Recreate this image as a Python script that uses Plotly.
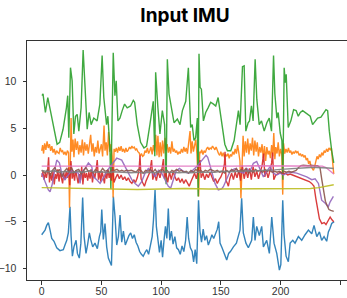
import plotly.graph_objects as go

# ---- data (x = sample index, y = value) ----
blue_x = [0, 1.4, 2.8, 4.2, 5.6, 7.0, 8.4, 10.3, 12.6, 15.3, 18.1, 19.5, 21.0, 22.3, 23.7, 24.6, 25.7, 27.0, 28.8, 29.9,
          31.5, 32.8, 34.3, 35.5, 37.1, 38.4, 39.9, 41.0, 42.7, 44.6, 46.6, 48.3, 49.4, 50.3, 51.6, 53.0, 54.4, 55.8, 57.2, 58.4,
          59.2, 60.0, 61.4, 62.8, 64.2, 65.6, 67.0, 68.4, 70.0, 71.5, 73.0, 74.5, 76.0, 77.5, 79.0, 80.5, 82.0, 83.5, 85.0, 86.5,
          88.0, 89.5, 91.0, 92.5, 93.6, 94.9, 96.0, 97.3, 98.6, 100.0, 101.2, 102.4, 103.6, 104.8, 106.0, 107.2, 108.6, 110.0, 111.5, 113.0,
          114.5, 116.0, 117.5, 119.0, 120.5, 121.8, 123.0, 124.5, 126.0, 127.2, 128.5, 129.8, 130.6, 131.3, 132.5, 133.8, 135.2, 136.6, 138.0, 139.5,
          141.0, 142.5, 144.0, 145.5, 147.0, 148.2, 149.3, 151.0, 153.5, 154.9, 156.5, 158.0, 160.5, 163.0, 166.0, 167.4, 168.8, 171.0, 173.0, 175.8,
          177.2, 178.6, 180.0, 182.2, 184.2, 185.6, 188.4, 190.6, 192.6, 194.5, 196.8, 199.0, 200.2, 201.8, 202.9, 204.6, 206.5, 208.0, 210.2, 212.1,
          214.9, 217.7, 220.5, 223.3, 226.1, 228.0, 230.3, 232.5, 234.4, 236.4, 238.6, 240.0, 241.4, 242.8, 244.8]
blue_y = [-6.4, -6.2, -5.9, -5.4, -5.1, -5.9, -6.8, -7.1, -7.8, -8.1, -8.0, -7.5, -7.0, -6.2, -3.4, -6.5, -8.7, -7.7, -7.0, -8.4,
          -8.9, -7.3, -2.4, -6.6, -8.4, -7.5, -6.2, -6.9, -7.7, -7.3, -7.9, -6.6, -6.1, -3.7, -6.9, -5.2, -7.7, -8.9, -9.3, -9.7,
          -6.0, -2.3, -4.5, -7.5, -6.6, -4.3, -7.2, -6.0, -7.5, -6.9, -6.5, -6.2, -6.8, -6.4, -7.2, -7.6, -8.2, -8.5, -8.7, -8.3,
          -8.0, -8.5, -7.4, -6.6, -4.8, -1.6, -5.5, -7.3, -8.3, -7.0, -8.8, -7.0, -5.5, -6.8, -3.6, -7.0, -6.0, -7.4, -6.6, -7.8,
          -8.0, -8.5, -7.6, -8.2, -7.0, -4.5, -6.8, -7.8, -8.2, -9.3, -8.0, -9.5, -6.5, -2.7, -6.0, -7.2, -5.8, -7.0, -6.5, -7.5,
          -7.0, -6.4, -6.8, -6.2, -5.8, -5.0, -7.3, -7.8, -8.7, -9.1, -8.4, -8.2, -7.7, -7.3, -5.9, -2.5, -6.2, -7.3, -7.8, -7.0,
          -4.5, -7.0, -5.5, -6.5, -5.5, -7.7, -7.0, -8.4, -4.5, -7.3, -8.4, -10.2, -9.6, -2.7, -6.4, -8.7, -9.3, -7.3, -7.0, -7.3,
          -6.6, -7.0, -6.4, -5.9, -6.3, -5.4, -6.6, -6.1, -7.0, -6.6, -7.1, -6.1, -5.7, -5.2, -5.0]

orange_x = [0, 0.8, 1.6, 2.5, 3.5, 4.5, 5.5, 6.5, 7.5, 8.5, 9.5, 10.5, 11.5, 12.5, 13.5, 14.5, 15.5, 16.5, 17.5, 18.5,
            19.5, 20.5, 21.5, 22.5, 23.3, 24.0, 24.6, 25.3, 26.2, 27.0, 28.0, 29.0, 30.0, 31.0, 32.0, 33.0, 34.0, 35.0, 36.0, 37.0,
            38.0, 39.0, 40.0, 41.0, 42.0, 43.0, 44.0, 45.0, 46.0, 47.0, 48.0, 49.0, 50.0, 51.0, 52.2, 53.0, 54.0, 55.0, 56.0, 57.0,
            58.0, 59.0, 59.8, 60.6, 61.5, 62.5, 63.5, 64.5, 65.5, 66.5, 67.5, 68.5, 69.5, 70.5, 71.5, 72.5, 73.5, 74.5, 75.5, 76.5,
            77.5, 78.5, 79.5, 80.5, 81.5, 82.5, 83.5, 84.5, 85.5, 86.5, 87.5, 88.5, 89.5, 90.5, 91.5, 92.5, 93.5, 94.5, 95.5, 96.5,
            97.3, 98.3, 99.2, 100.2, 101.2, 102.2, 103.2, 104.0, 105.0, 106.0, 107.0, 108.0, 109.0, 110.0, 111.0, 112.0, 113.0, 114.0, 115.0, 116.0,
            117.0, 118.0, 119.0, 120.0, 121.0, 122.0, 123.0, 124.2, 125.0, 126.0, 127.0, 128.0, 129.0, 130.0, 131.4, 132.3, 133.2, 134.0, 135.0, 136.0,
            137.0, 138.0, 139.0, 140.0, 141.0, 142.0, 143.0, 144.0, 145.0, 146.0, 147.0, 148.0, 149.0, 150.0, 151.0, 152.0, 153.0, 154.0, 155.0, 156.0,
            157.0, 158.0, 159.0, 160.0, 161.0, 162.0, 163.0, 164.0, 165.0, 166.0, 166.8, 167.6, 168.6, 169.5, 170.5, 171.5, 172.5, 173.5, 174.5, 175.5,
            176.5, 177.5, 178.5, 179.5, 180.5, 181.5, 182.5, 183.5, 184.5, 185.5, 186.5, 187.5, 188.5, 189.5, 190.5, 191.5, 192.5, 193.5, 194.3, 195.2,
            196.0, 197.0, 198.0, 199.0, 200.0, 201.0, 201.8, 202.5, 203.5, 204.5, 205.5, 206.6, 207.5, 208.5, 209.5, 210.5, 211.5, 212.5, 213.5, 214.5,
            215.5, 216.5, 217.5, 218.5, 219.5, 220.5, 221.5, 222.5, 223.5, 224.5, 225.5, 226.5, 227.5, 228.5, 229.5, 230.5, 231.5, 232.5, 233.5, 234.5,
            235.5, 236.5, 237.5, 238.5, 239.5, 240.5, 241.5, 242.5, 243.5, 244.5]
orange_y = [2.6, 3.2, 2.3, 3.4, 2.7, 3.6, 2.9, 3.3, 2.6, 3.1, 2.4, 2.8, 2.2, 2.6, 2.4, 2.3, 2.9, 2.5, 2.6, 2.2,
            2.5, 2.1, 2.6, 2.4, -3.5, 1.0, 6.1, 2.5, 3.8, 1.9, 3.9, 2.7, 3.6, 2.2, 3.2, 2.4, 3.8, 2.1, 3.5, 2.6,
            3.3, 2.3, 3.1, 4.3, 2.5, 3.4, 2.0, 3.0, 2.4, 3.7, 2.3, 2.8, 3.3, 2.0, 5.3, 2.6, 3.5, 2.1, 4.6, 2.5,
            3.3, 2.0, -2.4, 2.8, 2.5, 2.9, 2.4, 3.0, 2.6, 3.1, 2.5, 2.8, 2.4, 2.9, 2.5, 2.7, 3.0, 2.8, 3.1, 2.9,
            3.0, 2.7, 2.8, 2.5, 2.4, 2.0, 2.3, 2.0, 2.1, 2.6, 2.4, 2.9, 2.3, 2.6, 3.0, 2.2, 3.2, 2.5, 4.3, 2.1,
            4.2, 1.9, 3.5, 2.0, 3.7, 2.3, 4.0, 2.6, 3.3, 2.4, 3.0, 2.3, 3.6, 2.5, 2.8, 2.4, 2.6, 2.2, 2.5, 2.3,
            2.8, 2.4, 3.0, 2.5, 2.9, 2.3, 3.4, 4.7, 2.3, 3.6, 2.5, 3.0, 3.8, 2.2, -2.3, 2.5, 2.4, 2.7, 2.2, 2.6,
            2.4, 2.8, 3.0, 2.7, 2.9, 2.8, 3.1, 2.9, 2.7, 3.0, 2.6, 2.3, 2.1, 2.5, 2.0, 2.4, 1.9, 2.2, 2.0, 2.3,
            1.8, 2.2, 2.0, 2.5, 2.2, 2.8, 2.3, 3.2, 2.4, 1.5, -2.5, 2.0, 4.2, 2.0, 3.6, 2.4, 3.9, 2.2, 3.4, 2.6,
            4.0, 2.1, 3.7, 2.5, 3.5, 2.0, 3.0, 2.4, 3.3, 1.8, 3.1, 1.5, 3.0, 2.2, 2.6, 1.8, 3.2, 2.0, 4.5, 1.7,
            3.0, 2.3, 3.5, 2.0, 2.8, 2.2, -2.1, 3.4, 2.3, 2.8, 2.4, 2.9, 2.4, 2.6, 2.2, 2.5, 2.3, 2.6, 2.4, 2.5,
            2.1, 2.3, 2.0, 2.2, 1.9, 2.1, 1.6, 1.8, 1.2, 1.5, 0.9, 0.7, 0.5, 0.9, 1.4, 2.0, 1.7, 2.2, 1.9, 2.4,
            2.1, 2.6, 2.4, 2.8, 2.5, 2.9, 2.7, 2.9, 1.5, 0.1]

green_x = [0.3, 1.1, 3.1, 5.1, 7.3, 10.1, 12.9, 15.1, 17.9, 20.7, 21.8, 22.7, 24.1, 25.5, 26.9, 28.3, 29.7, 31.1, 33.0, 34.7,
           36.7, 38.1, 39.7, 41.4, 43.6, 46.4, 48.7, 50.6, 52.0, 54.3, 55.4, 57.1, 57.9, 59.9, 61.3, 62.4, 63.8, 65.5, 67.4, 69.4,
           71.6, 74.4, 76.7, 77.8, 80.0, 82.8, 85.6, 87.8, 90.6, 93.4, 94.7, 95.4, 97.3, 99.0, 101.0, 102.9, 104.2, 105.2, 106.6, 108.5,
           110.8, 113.6, 115.8, 117.8, 120.6, 122.8, 124.7, 126.0, 127.5, 128.9, 130.3, 131.0, 131.7, 132.6, 133.7, 135.4, 137.3, 139.3, 141.5, 143.8,
           145.7, 147.7, 149.3, 151.3, 153.3, 155.5, 158.3, 161.1, 163.3, 164.7, 166.1, 168.1, 169.5, 170.9, 172.8, 174.0, 175.6, 177.0, 178.7, 180.1,
           182.1, 184.0, 186.3, 188.5, 190.5, 192.4, 194.1, 195.2, 196.9, 198.0, 199.7, 201.1, 201.9, 203.0, 203.9, 204.7, 206.4, 208.6, 210.9, 213.0,
           214.8, 216.5, 218.5, 220.4, 222.6, 224.8, 226.8, 228.8, 231.0, 233.8, 236.0, 238.0, 239.4, 240.8, 242.8, 244.5]
green_y = [8.5, 8.7, 6.7, 8.3, 6.9, 4.9, 3.3, 3.5, 4.9, 7.2, 8.5, 4.0, 11.5, 10.1, 4.4, 6.3, 6.5, 4.7, 7.2, 13.4,
           8.7, 4.9, 6.7, 5.4, 6.1, 5.8, 7.6, 12.8, 8.3, 5.4, 6.3, 2.9, -1.5, 13.1, 8.5, 10.1, 5.8, 6.1, 6.9, 7.6,
           7.2, 7.4, 8.0, 7.8, 5.4, 3.5, 2.9, 3.1, 5.4, 7.9, 2.0, 11.0, 7.2, 4.4, 6.9, 5.4, -1.0, 12.4, 8.7, 7.2,
           5.6, 6.0, 5.4, 6.9, 7.9, 11.5, 5.1, 5.4, 3.7, 4.0, 6.1, -2.3, 13.0, 9.4, 9.2, 5.8, 6.7, 7.2, 7.8, 7.6,
           7.4, 8.3, 6.9, 4.7, 3.3, 2.6, 2.6, 3.7, 5.8, 6.9, 5.4, 11.6, 11.7, 4.7, 5.6, 5.8, 7.4, 5.8, 12.4, 8.1,
           5.4, 5.8, 4.7, 5.6, 6.1, 4.7, 12.8, 8.7, 6.1, 6.7, 4.5, 3.7, -0.5, 11.5, 9.9, 10.8, 5.1, 5.8, 7.0, 6.9,
           6.3, 6.7, 6.9, 6.7, 6.5, 6.3, 5.4, 5.8, 6.1, 6.2, 6.6, 7.0, 6.9, 4.7, 2.6, 1.3]

red_x = [0, 1, 2, 3, 4, 5, 5.8, 6.5, 7.5, 8.5, 9.5, 10.5, 11.5, 12.5, 13.5, 14.5, 15.5, 16.5, 17.5, 18.5,
         19.5, 20.5, 21.5, 22.5, 23.5, 24.5, 25.5, 26.5, 27.5, 28.5, 29.5, 30.5, 31.5, 32.5, 33.5, 34.5, 35.5, 36.5, 37.5, 38.5,
         39.5, 40.5, 41.5, 42.5, 43.5, 44.5, 45.5, 46.5, 47.5, 48.5, 49.5, 50.5, 51.5, 52.5, 53.5, 54.5, 55.5, 56.5, 57.5, 58.5,
         59.5, 60.5, 62, 63.5, 65, 66.5, 68, 69.5, 71, 72.5, 74, 75.5, 77, 78.5, 80, 81.5, 82.3, 83.2, 84.5, 86,
         87.5, 89, 90.5, 92, 93, 94.5, 96, 97.5, 99, 100.5, 101.9, 102.8, 104, 105.5, 107, 108.5, 110, 111.5, 113, 114.5,
         116, 117.5, 119, 120.5, 122, 123.5, 125, 126.5, 128, 129.5, 131, 132.6, 133.5, 135, 136.5, 138, 139.5, 141, 142.5, 144,
         145.5, 147, 148.5, 150, 151.5, 153, 153.5, 154.3, 155.5, 156.3, 157.5, 159, 160.5, 162, 163.5, 165, 166.5, 168, 169.5, 171,
         172.5, 174, 175.5, 177, 178.5, 180, 181.5, 183, 184.5, 185.8, 186.8, 188, 189.5, 191, 192.5, 193.3, 194.3, 196, 198, 200,
         202, 204, 206, 208, 210, 212, 214, 216, 218, 220, 222, 224, 226, 228, 229.5, 231, 232.5, 234.5, 236.5, 238,
         239.5, 241.5, 243, 244.5]
red_y = [-0.2, 0.3, -0.5, 0.2, -0.3, 0.5, 1.9, -0.8, 0.2, -0.6, 0.4, -1.0, 0.1, -0.4, 0.6, -0.7, 0.3, -0.2, -0.9, 0.2,
         -0.5, 0.4, -0.3, 0.8, -1.1, 1.5, -0.4, 0.3, -0.6, 0.5, -0.2, -0.9, 0.1, -0.5, 0.9, -1.0, 0.4, -0.3, 0.2, -0.6,
         0.3, -0.4, 0.6, -0.8, 0.2, -0.3, 0.5, 1.6, -0.5, 0.3, -0.7, 0.4, -0.2, -0.9, 0.3, -0.4, 0.6, -0.3, 0.2, -0.6,
         1.0, -0.8, -0.3, 0.1, -0.4, 0.0, -0.5, -0.2, -0.6, -0.3, -0.7, -0.9, -0.5, -0.8, -0.3, 0.5, 2.1, -0.4, -0.8, -1.2,
         -0.6, -0.2, 0.3, 1.6, -0.5, 0.2, -0.6, 0.4, -0.3, 0.5, 1.7, -0.4, 0.2, -0.8, 0.3, -0.5, 0.4, -0.2, -0.6, -0.3,
         -0.8, -0.4, -0.9, -0.5, -0.9, -1.2, -0.7, -0.3, 0.2, -0.4, 0.6, 1.6, -0.3, 0.2, -0.5, 0.1, -0.3, 0.3, -0.2, -0.7,
         -0.4, -0.9, -0.5, -0.2, 0.3, 1.2, 2.5, -0.6, -0.9, -1.2, -0.4, 0.2, -0.5, 0.3, -0.3, 0.5, -0.6, 1.0, -0.4, 0.5,
         -0.3, 0.7, -0.5, 0.9, -0.2, 0.4, -0.4, 0.3, 1.0, 2.3, -0.2, 0.5, -0.3, 0.4, 1.3, 2.4, -0.5, 0.0, 0.2, 0.3,
         0.1, 0.2, 0.0, 0.1, 0.0, -0.1, -0.2, -0.3, -0.4, -0.5, -0.6, -0.7, -0.9, -1.2, -2.5, -3.8, -4.7, -5.2, -5.1, -5.3,
         -4.9, -4.5, -4.8, -5.0]

purple_x = [0, 2, 4, 5.6, 7, 8.8, 11.2, 12.6, 14.8, 16.8, 19.5, 22.3, 25.1, 27.9, 30.7, 32.1, 33.5, 36.3, 39.1, 41.9,
            43.3, 46.1, 48.9, 51.7, 54.5, 57.3, 60.0, 62.8, 67.0, 69.8, 72.6, 75.4, 78.2, 80.9, 83.7, 86.5, 89.3, 92.1, 94.9, 97.7,
            100.5, 103.3, 106.0, 108.0, 110.2, 112.5, 115.3, 118.6, 122.8, 125.6, 129.8, 134.0, 137.6, 139.0, 142.3, 145.1, 147.9, 150.6, 152.1, 154.9,
            157.7, 161.9, 164.7, 168.9, 171.6, 174.4, 177.2, 180.0, 182.8, 185.6, 188.4, 191.2, 194.0, 196.8, 199.6, 202.4, 205.1, 209.3, 213.5, 217.7,
            221.9, 226.1, 228.9, 231.7, 233.1, 234.4, 237.2, 240.0, 241.4, 244.2]
purple_y = [0.2, -0.4, -1.2, -1.6, -1.8, -1.0, 0.7, 1.6, 1.3, 0.2, -0.5, 0.0, 0.5, 0.3, 0.2, -0.9, 0.3, 0.7, 1.3, 0.9,
            -0.2, -0.5, -0.9, -0.3, 0.4, 0.9, 1.4, 1.8, 1.6, 0.9, 0.2, -0.5, -0.9, -1.2, -0.7, 0.2, 0.7, 0.4, -0.2, 0.5,
            0.2, -0.5, -1.2, -1.4, -0.5, 0.4, 0.7, 0.4, 0.2, 0.4, 0.9, 1.6, 2.1, 1.9, 0.3, -0.9, -1.6, -1.5, -1.25, -0.5,
            0.4, 0.7, 0.4, 0.2, 0.7, 0.4, 1.25, 1.45, 0.6, -0.2, 0.4, 0.9, 0.2, 0.0, 0.2, 0.0, 0.2, 0.3, 0.2, 0.0,
            -0.2, -0.5, -0.4, -0.9, -1.9, -2.7, -3.0, -3.4, -2.9, -2.3]

brown_x = [0, 3, 5, 7, 9, 11, 13, 15, 17, 19, 21, 23, 25, 27, 29, 31, 33, 35, 37, 39,
           41, 43, 45, 47, 49, 51, 53, 55, 57, 59, 61, 63, 65, 67, 69, 71, 73, 75, 77, 79,
           81, 83, 85, 87, 89, 91, 93, 95, 97, 99, 101, 103, 105, 107, 109, 111, 113, 115, 117, 119,
           121, 123, 125, 127, 129, 131, 133, 135, 137, 139, 141, 143, 145, 147, 149, 151, 153, 155, 157, 159,
           161, 163, 165, 167, 169, 171, 173, 175, 177, 179, 181, 183, 185, 187, 189, 191, 193, 195, 197, 199,
           201, 203, 205, 207, 209, 211, 213, 215, 217, 219, 221, 223, 225, 227, 229, 231, 233, 234.5, 236, 237.5,
           239, 240.5, 242, 244.5]
brown_y = [0.5, 0.2, 0.6, -0.1, 0.5, 0.8, 0.3, 0.6, -0.2, 0.4, 0.7, 0.3, 0.8, 0.2, 0.5, 0.6, 0.1, 0.5, 0.8, 0.4,
           0.5, 0.2, 0.6, 0.4, 0.3, 0.7, 0.4, 0.5, 0.2, 0.6, 0.5, 0.6, 0.4, 0.5, 0.4, 0.5, 0.45, 0.5, 0.4, 0.3,
           0.6, 0.5, 0.2, 0.5, 0.4, 0.6, 0.3, 0.6, 0.2, 0.5, 0.6, 0.3, 0.5, 0.2, 0.5, 0.4, 0.6, 0.4, 0.5, 0.3,
           0.4, 0.2, 0.5, 0.3, 0.6, 0.4, 0.5, 0.3, 0.5, 0.4, 0.6, 0.5, 0.4, 0.5, 0.3, 0.4, 0.2, 0.5, 0.3, 0.6,
           0.4, 0.7, 0.3, 0.6, 0.4, 0.7, 0.2, 0.5, 0.3, 0.6, 0.4, 0.5, 0.3, 0.6, 0.4, 0.5, 0.3, 0.4, 0.3, 0.4,
           0.2, 0.4, 0.3, 0.4, 0.3, 0.4, 0.5, 0.8, 1.0, 1.05, 1.0, 1.0, 1.05, 1.0, 1.0, 1.0, 0.8, -0.5, -1.8, -2.8,
           -3.3, -3.7, -3.8, -3.9]

pink_x = [0, 20, 40, 60, 80, 100, 120, 140, 160, 180, 200, 220, 230, 235, 238, 241, 243, 244.5]
pink_y = [0.95, 0.95, 0.9, 0.95, 0.9, 0.95, 0.9, 0.95, 0.95, 1.0, 1.0, 1.0, 1.0, 0.95, 0.8, 0.5, 0.25, 0.1]

gray_x = [0, 5, 10, 15, 20, 25, 30, 35, 40, 45, 50, 55, 60, 65, 70, 75, 80, 85, 90, 95,
          100, 105, 110, 115, 120, 125, 130, 135, 140, 145, 150, 155, 160, 165, 170, 175, 180, 185, 190, 195,
          200, 205, 210, 215, 220, 225, 230, 235, 240, 244.5]
gray_y = [0.5, 0.35, 0.45, 0.3, 0.4, 0.25, 0.4, 0.3, 0.45, 0.3, 0.35, 0.25, 0.35, 0.3, 0.3, 0.25, 0.3, 0.2, 0.3, 0.25,
          0.35, 0.3, 0.3, 0.25, 0.3, 0.25, 0.3, 0.3, 0.35, 0.3, 0.4, 0.35, 0.35, 0.4, 0.4, 0.45, 0.45, 0.5, 0.5, 0.55,
          0.6, 0.65, 0.7, 0.75, 0.8, 0.8, 0.8, 0.8, 0.75, 0.7]

olive_x = [0, 20, 40, 60, 80, 100, 120, 140, 160, 180, 200, 215, 225, 232, 238, 244.5]
olive_y = [-1.35, -1.4, -1.5, -1.55, -1.55, -1.5, -1.45, -1.5, -1.5, -1.5, -1.5, -1.5, -1.45, -1.35, -1.2, -1.05]

x_ticks = [0, 50, 100, 150, 200, 250]
y_ticks = [-10, -5, 0, 5, 10]
title_text = "Input IMU"

series = [
    (blue_x, blue_y, "#1f77b4"),
    (orange_x, orange_y, "#ff7f0e"),
    (green_x, green_y, "#2ca02c"),
    (red_x, red_y, "#d62728"),
    (purple_x, purple_y, "#9467bd"),
    (brown_x, brown_y, "#8c564b"),
    (pink_x, pink_y, "#e377c2"),
    (gray_x, gray_y, "#7f7f7f"),
    (olive_x, olive_y, "#bcbd22"),
]

fig = go.Figure()
for xs, ys, col in series:
    fig.add_trace(go.Scatter(x=xs, y=ys, mode="lines", line=dict(color=col, width=1.4),
                             opacity=0.9, showlegend=False, hoverinfo="skip"))

tick_font = dict(family="Liberation Sans Narrow, Liberation Sans, sans-serif", size=10.5, color="#333333")
axis_common = dict(showgrid=False, zeroline=False, showline=True, linecolor="#333333", linewidth=1,
                   ticks="outside", ticklen=3.5, tickwidth=0.8, tickcolor="#333333",
                   tickfont=tick_font, automargin=False)

W, H = 347, 298
fig.update_layout(
    width=W, height=H,
    margin=dict(l=27, r=0, t=41, b=18),
    paper_bgcolor="white", plot_bgcolor="white",
    title=dict(text="<b>%s</b>" % title_text, x=185 / W, xanchor="center", y=1 - 15 / H, yanchor="middle",
               font=dict(family="Inter", size=19, color="black")),
    xaxis=dict(range=[-12.3, 255.6], tickvals=x_ticks, mirror=True, ticklabelstandoff=-2, **axis_common),
    yaxis=dict(range=[-11.25, 14.36], tickvals=y_ticks, mirror=False, ticklabelstandoff=4, **axis_common),
)

# remove the browser's default 8px body margin so the figure sits at the page origin
fig.write_html("out.html", config={"displayModeBar": False},
               post_script="document.body.style.margin='0';")
